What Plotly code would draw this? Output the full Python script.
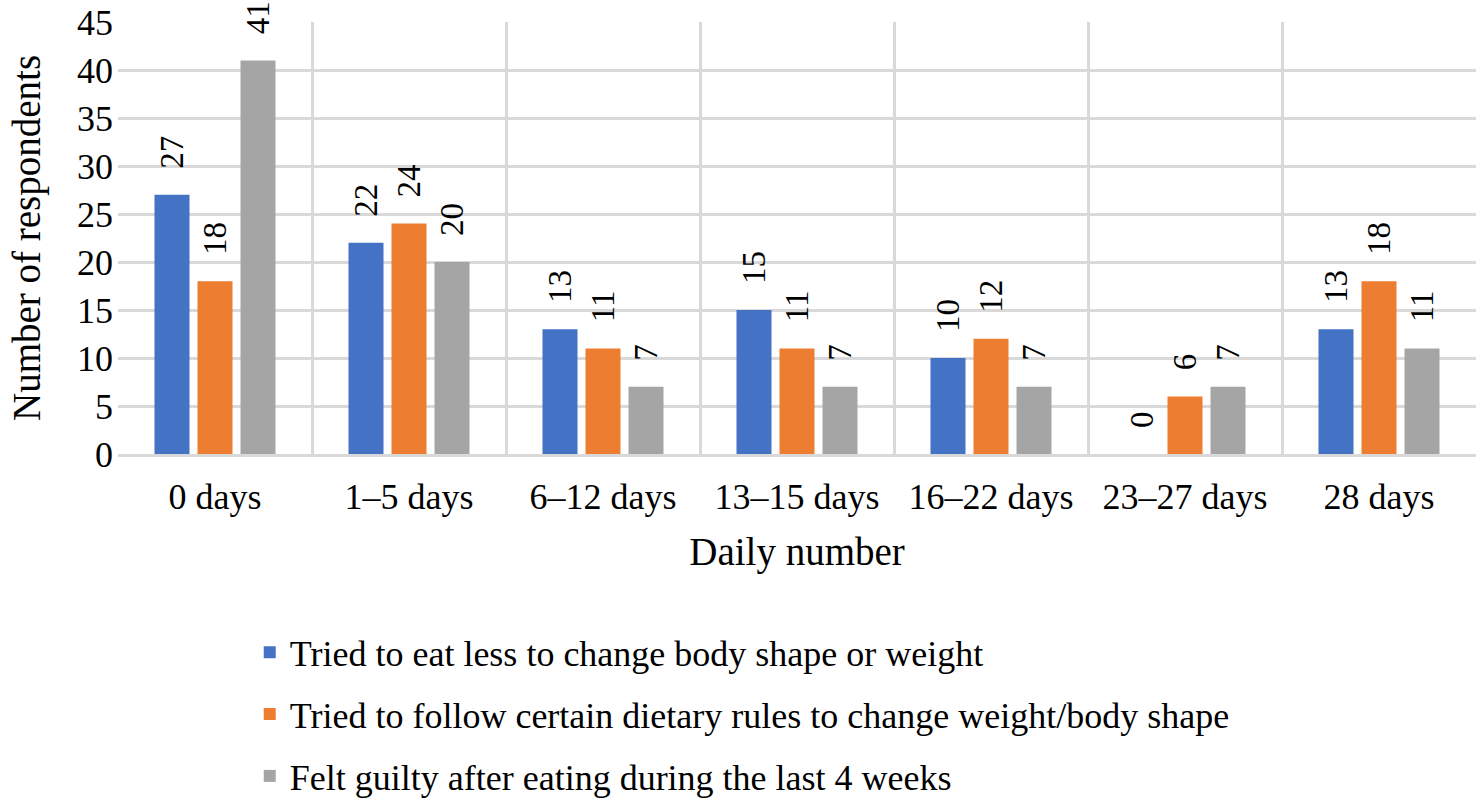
import plotly.graph_objects as go

categories = ["0 days", "1–5 days", "6–12 days", "13–15 days", "16–22 days", "23–27 days", "28 days"]
series_names = [
    "Tried to eat less to change body shape or weight",
    "Tried to follow certain dietary rules to change weight/body shape",
    "Felt guilty after eating during the last 4 weeks",
]
eat_less = [27, 22, 13, 15, 10, 0, 13]
dietary_rules = [18, 24, 11, 11, 12, 6, 18]
felt_guilty = [41, 20, 7, 7, 7, 7, 11]
colors = ["#4472C4", "#ED7D31", "#A5A5A5"]

FONT = "Liberation Serif, Tinos, Nimbus Roman, FreeSerif, Noto Serif, DejaVu Serif, serif"

fig = go.Figure()
for i, (name, vals) in enumerate(zip(series_names, [eat_less, dietary_rules, felt_guilty])):
    fig.add_trace(go.Bar(
        x=categories, y=vals, name=name,
        marker=dict(color=colors[i], line=dict(width=0)),
        text=vals,
        texttemplate="\u00a0\u00a0\u2009%{y}",
        textposition="outside",
        textangle=-90,
        textfont=dict(family=FONT, size=33, color="black"),
        cliponaxis=False,
        constraintext="none",
        legendgroup=f"g{i}",
    ))

fig.update_layout(
    width=1479, height=800,
    paper_bgcolor="white", plot_bgcolor="white",
    barmode="group", bargap=0.335, bargroupgap=0.186,
    margin=dict(l=118, r=3, t=22, b=346),
    font=dict(family=FONT, color="black"),
    showlegend=True,
    legend=dict(
        x=0.097, xref="paper", y=0.222, yref="container",
        xanchor="left", yanchor="top",
        font=dict(family=FONT, size=36, color="black"),
        tracegroupgap=12, itemwidth=30,
        bgcolor="rgba(0,0,0,0)",
    ),
    annotations=[dict(
        text="Number of respondents", xref="paper", yref="paper",
        x=-0.067, y=0.5, xanchor="center", yanchor="middle",
        textangle=-90, showarrow=False,
        font=dict(family=FONT, size=39, color="black"),
    )],
)
fig.update_xaxes(
    type="category", tickson="boundaries", automargin=False,
    showgrid=True, gridcolor="#D9D9D9", gridwidth=3,
    showline=True, linecolor="#D9D9D9", linewidth=3,
    ticks="", tickfont=dict(family=FONT, size=36, color="black"),
    ticklabelstandoff=9, ticklabeloverflow="allow",
    title=dict(text="Daily number", font=dict(family=FONT, size=39, color="black"), standoff=22),
    zeroline=False, mirror=False,
)
fig.update_yaxes(
    range=[0, 45], dtick=5, tick0=0, automargin=False,
    showgrid=True, gridcolor="#D9D9D9", gridwidth=3,
    zeroline=False, showline=False,
    ticks="", tickfont=dict(family=FONT, size=36, color="black"),
    ticklabelstandoff=4, ticklabeloverflow="allow",
)

post = "document.body.style.margin='0px';"
fig.write_html("out.html", post_script=post, config={"displayModeBar": False})
